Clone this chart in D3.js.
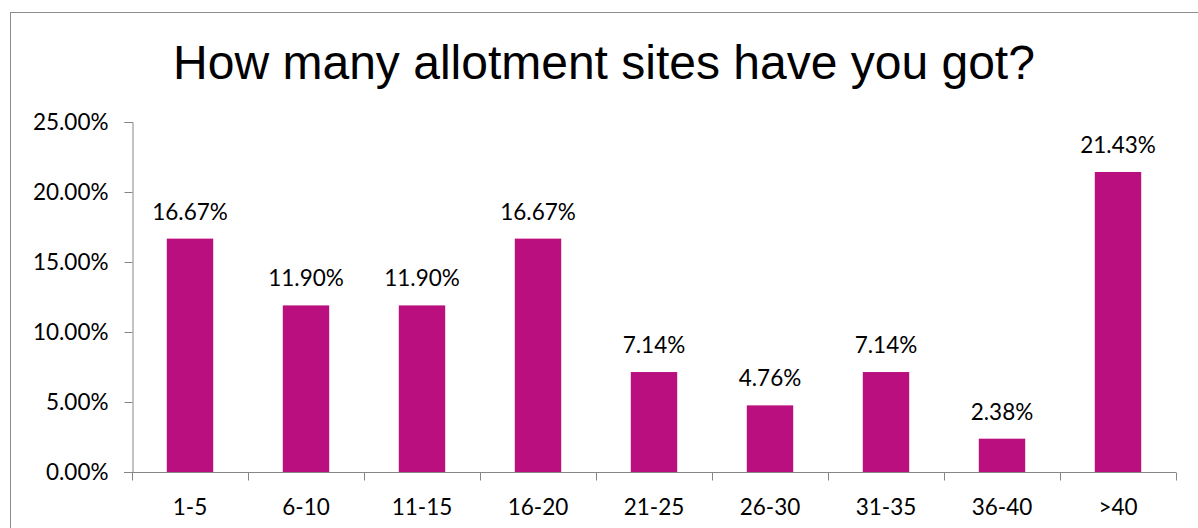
<!DOCTYPE html>
<html>
<head>
<meta charset="utf-8">
<script src="https://cdn.jsdelivr.net/npm/d3@7"></script>
<style>
  body { margin: 0; background: #fff; }
  svg { display: block; }
  text { font-family: Lato, "Open Sans", sans-serif; fill: #000; }
</style>
</head>
<body>
<svg id="chart" width="1198" height="528"></svg>
<script>
// 数据
const categories = ["1-5", "6-10", "11-15", "16-20", "21-25", "26-30", "31-35", "36-40", ">40"];
const values = [16.67, 11.90, 11.90, 16.67, 7.14, 4.76, 7.14, 2.38, 21.43];
const yTicks = [0, 5, 10, 15, 20, 25];
const title = "How many allotment sites have you got?";

const svg = d3.select("#chart");
const width = 1198, height = 528;
const axisColor = "#868686";
const barColor = "#BA0F7E";
const labelSize = "22.5px";

// 外框
svg.append("rect")
  .attr("x", 10.5).attr("y", 12.5)
  .attr("width", width + 10).attr("height", height + 10)
  .attr("fill", "none")
  .attr("stroke", "#8c8c8c")
  .attr("stroke-width", 1);

// 标题
svg.append("text")
  .attr("x", 604)
  .attr("y", 79)
  .attr("text-anchor", "middle")
  .style("font-family", "'Liberation Sans', Arial, sans-serif")
  .style("font-size", "48px")
  .text(title);

const x = d3.scaleBand()
  .domain(categories)
  .range([132, 1176])
  .paddingInner(0.6)
  .paddingOuter(0.3);

const y = d3.scaleLinear()
  .domain([0, 25])
  .range([472, 122]);

// y轴
const yAxis = d3.axisLeft(y)
  .tickValues(yTicks)
  .tickFormat(d => d.toFixed(2) + "%")
  .tickSize(8)
  .tickPadding(16);

const gy = svg.append("g")
  .attr("transform", "translate(132.5,0)")
  .call(yAxis);
gy.select(".domain").attr("stroke", axisColor);
gy.selectAll(".tick line").attr("stroke", axisColor);
gy.selectAll(".tick text").style("font-size", labelSize).attr("fill", "#000");

// 柱子
svg.append("g")
  .selectAll("rect")
  .data(values)
  .join("rect")
  .attr("x", (d, i) => x(categories[i]))
  .attr("y", d => y(d))
  .attr("width", x.bandwidth())
  .attr("height", d => y(0) - y(d))
  .attr("fill", barColor);

// 数值标签
svg.append("g")
  .selectAll("text")
  .data(values)
  .join("text")
  .attr("x", (d, i) => x(categories[i]) + x.bandwidth() / 2)
  .attr("y", d => y(d) - 19)
  .attr("text-anchor", "middle")
  .style("font-size", labelSize)
  .text(d => d.toFixed(2) + "%");

// x轴
const step = x.step();
const gx = svg.append("g").attr("transform", "translate(0,472.5)");
gx.append("line")
  .attr("x1", 124).attr("x2", 1176)
  .attr("stroke", axisColor);
gx.selectAll("line.tick")
  .data(d3.range(categories.length + 1))
  .join("line")
  .attr("class", "tick")
  .attr("x1", i => 132.5 + i * step)
  .attr("x2", i => 132.5 + i * step)
  .attr("y1", 0).attr("y2", 8)
  .attr("stroke", axisColor);
gx.selectAll("text")
  .data(categories)
  .join("text")
  .attr("x", d => x(d) + x.bandwidth() / 2)
  .attr("y", 42)
  .attr("text-anchor", "middle")
  .style("font-size", labelSize)
  .text(d => d);
</script>
</body>
</html>
